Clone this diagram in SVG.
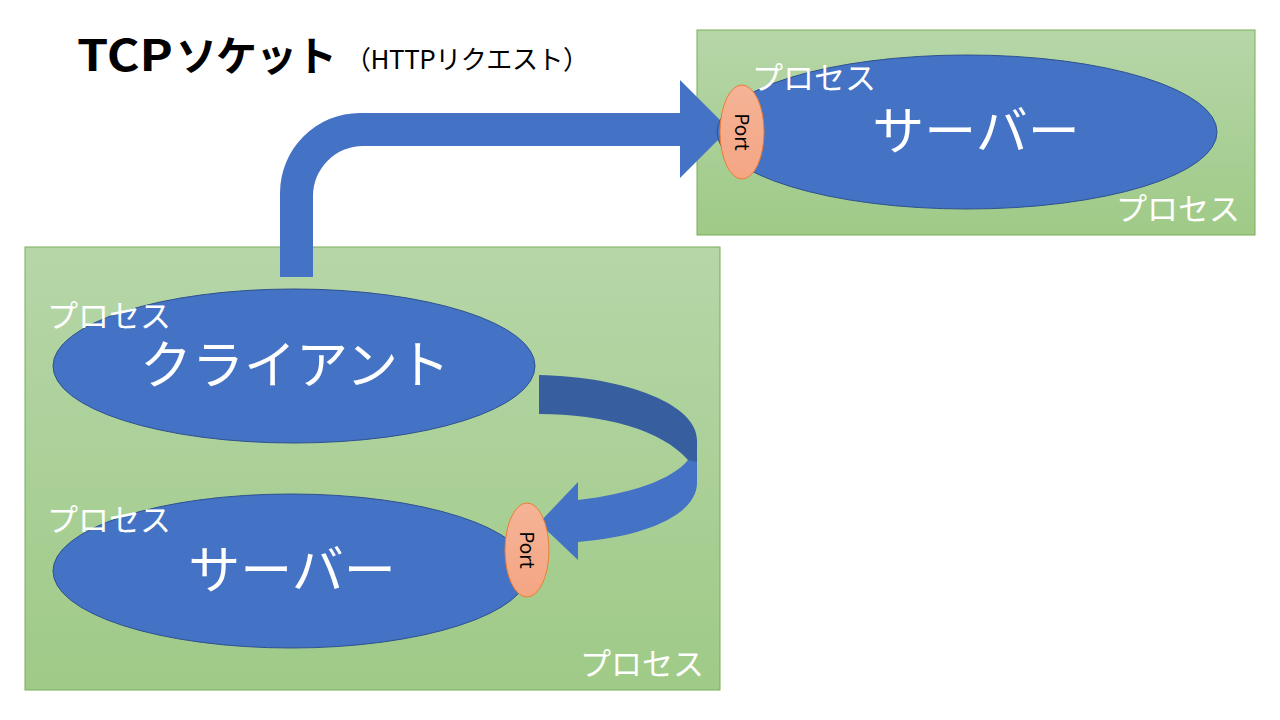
<svg xmlns="http://www.w3.org/2000/svg" width="1280" height="720" viewBox="0 0 1280 720">
  <defs>
    <linearGradient id="boxGrad" x1="0" y1="0" x2="0" y2="1">
      <stop offset="0" stop-color="#b6d6a8"/>
      <stop offset="1" stop-color="#9fca87"/>
    </linearGradient>
    <linearGradient id="portGrad" x1="0" y1="0" x2="0" y2="1">
      <stop offset="0" stop-color="#f5b396"/>
      <stop offset="1" stop-color="#f4a684"/>
    </linearGradient>
    <style>
      .box { fill: url(#boxGrad); stroke: #78ad58; stroke-width: 1; }
      .proc { fill: #4472c4; stroke: #2f528f; stroke-width: 1; }
      .port { fill: url(#portGrad); stroke: #ed7d31; stroke-width: 1; }
      .arrow { fill: #4472c4; }
      .arrowDark { fill: #375f9f; }
      .big { font-family: "Noto Sans CJK JP", "Noto Sans", sans-serif; font-size: 52px; fill: #ffffff; text-anchor: middle; }
      .lbl { font-family: "Noto Sans CJK JP", "Noto Sans", sans-serif; font-size: 31px; fill: #ffffff; }
      .portTxt { font-family: "Noto Sans CJK JP", "Noto Sans", sans-serif; font-size: 19px; fill: #000000; text-anchor: middle; }
      .title { font-family: "Noto Sans CJK JP", "Noto Sans", sans-serif; fill: #000000; }
    </style>
  </defs>

  <rect width="1280" height="720" fill="#ffffff"/>

  <g id="title">
    <text class="title" x="77" y="71" font-size="43" font-weight="bold" textLength="96" lengthAdjust="spacingAndGlyphs">TCP</text>
    <text class="title" x="176" y="71" font-size="41" font-weight="bold" textLength="161" lengthAdjust="spacing">ソケット</text>
    <text class="title" x="345" y="69" font-size="26" textLength="244" lengthAdjust="spacing">（HTTPリクエスト）</text>
  </g>

  <g id="box-remote">
    <rect class="box" x="697" y="30" width="558" height="205"/>
  </g>
  <g id="box-local">
    <rect class="box" x="25" y="247" width="695" height="443"/>
  </g>

  <g id="connectors">
    <path class="arrow" d="M280,277 L280,193 A80,80 0 0 1 360,113 L680,113 L680,80 L729,129 L680,178 L680,146 L363,146 A50,50 0 0 0 313,196 L313,277 Z"/>
    <path class="arrow" d="M697,456 L697,483 C697,512 652,536 578,542 L578,560 L539,523 L578,482 L578,500 C630,494 672,480 688,460 Z"/>
    <path class="arrowDark" d="M539,375 C628,377 697,405 697,440 L697,462 L688,460 C662,430 604,414 539,414 Z"/>
  </g>

  <g id="server-remote">
    <ellipse class="proc" cx="967" cy="132" rx="250" ry="77"/>
    <text class="big" x="976" y="150">サーバー</text>
  </g>

  <g id="client">
    <ellipse class="proc" cx="294" cy="366" rx="241" ry="77"/>
    <text class="big" x="295" y="384">クライアント</text>
  </g>

  <g id="server-local">
    <ellipse class="proc" cx="291" cy="571" rx="238" ry="77"/>
    <text class="big" x="292" y="589">サーバー</text>
  </g>

  <g id="labels">
    <text class="lbl" x="752" y="89">プロセス</text>
    <text class="lbl" x="1116" y="220">プロセス</text>
    <text class="lbl" x="47" y="327">プロセス</text>
    <text class="lbl" x="47" y="531">プロセス</text>
    <text class="lbl" x="580" y="675">プロセス</text>
  </g>

  <g id="port-remote">
    <ellipse class="port" cx="742" cy="132" rx="22" ry="47"/>
    <text class="portTxt" transform="translate(742,132) rotate(90)" x="0" y="7">Port</text>
  </g>

  <g id="port-local">
    <ellipse class="port" cx="527" cy="550" rx="22" ry="47"/>
    <text class="portTxt" transform="translate(527,550) rotate(90)" x="0" y="7">Port</text>
  </g>
</svg>
